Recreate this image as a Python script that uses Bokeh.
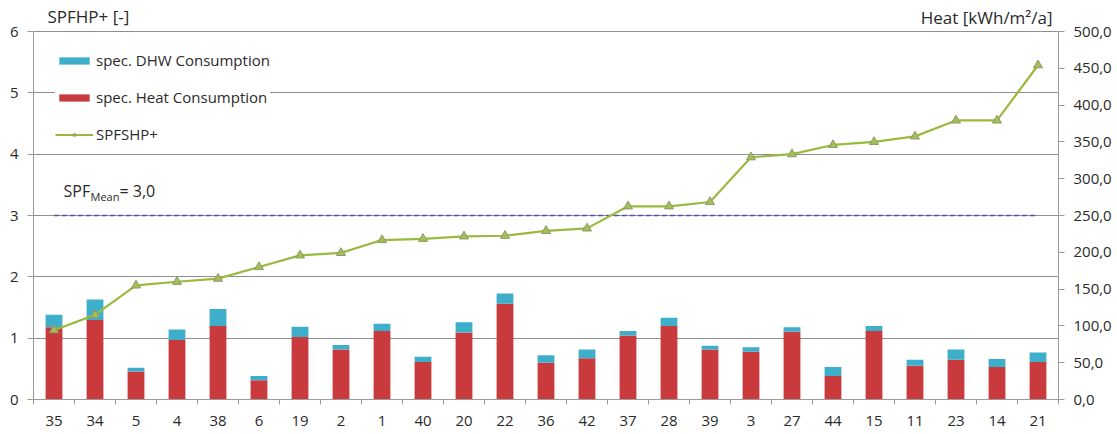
import numpy as np
from bokeh.plotting import figure
from bokeh.models import (ColumnDataSource, Range1d, LinearAxis, FixedTicker,
                          Legend, LegendItem, Label)
from bokeh.embed import file_html
from bokeh.resources import INLINE

# ---------------- data ----------------
categories = ["35", "34", "5", "4", "38", "6", "19", "2", "1", "40", "20", "22", "36",
              "42", "37", "28", "39", "3", "27", "44", "15", "11", "23", "14", "21"]
heat = [98, 108, 38, 81, 100, 26, 85, 68, 93, 51, 91, 130, 50,
        56, 87, 100, 68, 65, 92, 32, 93, 46, 54, 44, 51]
dhw = [17, 28, 5, 14, 23, 6, 14, 6, 10, 7, 14, 14, 10,
       12, 6, 11, 5, 6, 6, 12, 7, 8, 14, 11, 13]
spf = [1.13, 1.38, 1.86, 1.92, 1.97, 2.16, 2.35, 2.39, 2.60, 2.62, 2.66, 2.67, 2.75,
       2.79, 3.15, 3.15, 3.22, 3.95, 4.00, 4.15, 4.20, 4.29, 4.55, 4.55, 5.45]
spf_mean = 3.0
left_ticks = [0, 1, 2, 3, 4, 5, 6]
right_ticks = [0, 50, 100, 150, 200, 250, 300, 350, 400, 450, 500]

# ---------------- style ----------------
FONT = "Open Sans"
RED = "#C93A3D"
CYAN = "#3FAECA"
GREEN = "#9AB93E"
GRID = "#8E8E8E"
AXIS = "#9A9A9A"
TXT = "#2A2A2A"

AXIS_H = 368          # pixel height of the 0..6 axis span
FRAME_H = 396         # frame includes room above the axes for the titles
scale = FRAME_H / AXIS_H
left_max = left_ticks[-1]
right_max = right_ticks[-1]

n = len(categories)
xpos = np.arange(n)
src = ColumnDataSource(dict(x=xpos, heat=heat, dhw=dhw, spf=spf))

p = figure(frame_width=1025, frame_height=FRAME_H,
           x_range=Range1d(-0.5, n - 0.5), y_range=Range1d(0, left_max * scale),
           output_backend="svg", toolbar_location=None,
           min_border_left=33, min_border_right=58, min_border_top=3, min_border_bottom=34)
p.extra_y_ranges = {"heat": Range1d(0, right_max * scale)}
p.outline_line_color = None
p.background_fill_color = "white"
p.border_fill_color = "white"

# x axis
xa = p.xaxis[0]
xa.ticker = FixedTicker(ticks=list(xpos), minor_ticks=[k - 0.5 for k in range(n + 1)])
xa.major_label_overrides = {int(i): c for i, c in zip(xpos, categories)}
xa.major_tick_out = 0
xa.major_tick_in = 0
xa.minor_tick_out = 5
xa.minor_tick_in = 0
xa.minor_tick_line_color = AXIS
xa.axis_line_color = AXIS
xa.major_label_standoff = 11
xa.major_label_text_font = FONT
xa.major_label_text_font_size = "15px"
xa.major_label_text_color = TXT

# left axis
ya = p.yaxis[0]
ya.ticker = FixedTicker(ticks=left_ticks)
ya.bounds = (0, left_max)
ya.minor_tick_line_color = None
ya.major_tick_out = 6
ya.major_tick_in = 0
ya.major_tick_line_color = AXIS
ya.axis_line_color = AXIS
ya.major_label_standoff = 9
ya.major_label_text_font = FONT
ya.major_label_text_font_size = "15px"
ya.major_label_text_color = TXT

# right axis
ra = LinearAxis(y_range_name="heat", ticker=FixedTicker(ticks=right_ticks),
                bounds=(0, right_max))
ra.major_label_overrides = {t: f"{t},0" for t in right_ticks}
ra.minor_tick_line_color = None
ra.major_tick_out = 6
ra.major_tick_in = 0
ra.major_tick_line_color = AXIS
ra.axis_line_color = AXIS
ra.major_label_standoff = 9
ra.major_label_text_font = FONT
ra.major_label_text_font_size = "15px"
ra.major_label_text_color = TXT
p.add_layout(ra, "right")

p.xgrid.visible = False
p.ygrid.ticker = FixedTicker(ticks=left_ticks)
p.ygrid.grid_line_color = GRID
p.ygrid.grid_line_width = 1

# bars
r_heat, r_dhw = p.vbar_stack(["heat", "dhw"], x="x", width=0.41, source=src,
                             color=[RED, CYAN], line_color=None, y_range_name="heat")

# mean line
p.line(x=[xpos[0], xpos[-1]], y=[spf_mean, spf_mean], line_color="#5252B4",
       line_width=1.6, line_dash="5 3")

# SPF line
r_line = p.line("x", "spf", source=src, line_color=GREEN, line_width=2.2)
r_mark = p.scatter("x", "spf", source=src, marker="triangle", size=9,
                   fill_color="#A3BE5A", line_color="#8C9C62", line_width=1)

legend = Legend(items=[
    LegendItem(label="spec. DHW Consumption", renderers=[r_dhw]),
    LegendItem(label="spec. Heat Consumption", renderers=[r_heat]),
    LegendItem(label="SPFSHP+", renderers=[r_line, r_mark]),
], location=(22, 255))
legend.glyph_width = 38
legend.glyph_height = 9
legend.label_height = 20
legend.label_standoff = 3
legend.spacing = 17
legend.padding = 9
legend.margin = 0
legend.border_line_color = None
legend.background_fill_color = "white"
legend.background_fill_alpha = 1.0
legend.label_text_font = FONT
legend.label_text_font_size = "15px"
legend.label_text_color = TXT
p.add_layout(legend, "center")

# titles and mean label
p.add_layout(Label(x=14, y=383, x_units="screen", y_units="screen", text="SPFHP+ [-]",
                   text_font=FONT, text_font_size="17px", text_color=TXT,
                   text_baseline="middle", text_align="left"))
p.add_layout(Label(x=1019, y=382, x_units="screen", y_units="screen", text="Heat [kWh/m²/a]",
                   text_font=FONT, text_font_size="17px", text_color=TXT,
                   text_baseline="middle", text_align="right"))
mean_txt = f"= {spf_mean:.1f}".replace(".", ",")
p.add_layout(Label(x=30, y=209, x_units="screen", y_units="screen", text="SPF",
                   text_font=FONT, text_font_size="16px", text_color=TXT,
                   text_baseline="middle"))
p.add_layout(Label(x=57, y=203, x_units="screen", y_units="screen", text="Mean",
                   text_font=FONT, text_font_size="11px", text_color=TXT,
                   text_baseline="middle"))
p.add_layout(Label(x=86, y=209, x_units="screen", y_units="screen", text=mean_txt,
                   text_font=FONT, text_font_size="16px", text_color=TXT,
                   text_baseline="middle"))

open("out.html", "w").write(file_html(p, INLINE))
